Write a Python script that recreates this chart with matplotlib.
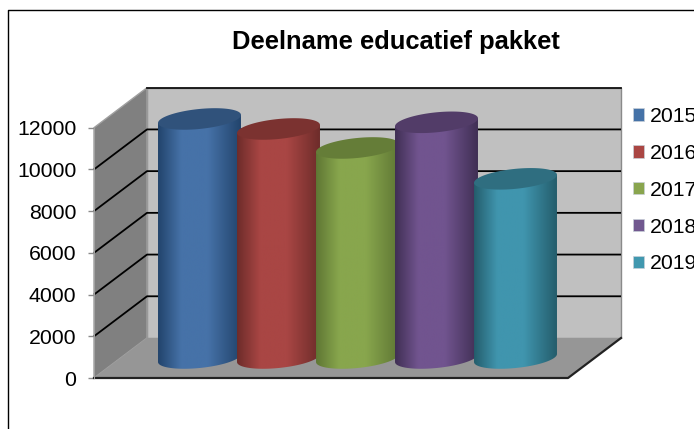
import numpy as np
import matplotlib
matplotlib.use('Agg')
import matplotlib.pyplot as plt
from matplotlib.colors import LinearSegmentedColormap
from matplotlib.lines import Line2D
from matplotlib.patches import Patch, Polygon

plt.rcParams['font.family'] = ['Liberation Sans', 'DejaVu Sans']

years = ['2015', '2016', '2017', '2018', '2019']
values = [11460, 10980, 10070, 11300, 8590]
y_ticks = [0, 2000, 4000, 6000, 8000, 10000, 12000]

body_colors = ['#4672a8', '#a94644', '#88a64d', '#71548f', '#4095ae']
edge_colors = ['#22446c', '#6d2c2a', '#5f7734', '#402f54', '#245d6c']
top_colors = ['#30527b', '#7b3230', '#657d38', '#523c68', '#2f6e80']
legend_colors = ['#4572a7', '#aa4643', '#89a54e', '#71588f', '#4198af']

W, H = 694, 429
fig = plt.figure(figsize=(W / 100, H / 100), dpi=100)
ax = fig.add_axes([94 / W, (H - 378) / H, 474 / W, 250.3 / H])
ax.set_xlim(-1, 5)
ax.set_ylim(0, 12000)

# depth of the fake 3d box, in data units
dx = 53 / 79.0
dy = 40 / (250.3 / 12000)
x0, x1 = -1, 5
top = 12000

ax.add_patch(Polygon([(x0 + dx, dy), (x1 + dx, dy), (x1 + dx, top + dy), (x0 + dx, top + dy)],
                     fc='#c0c0c0', ec='#8a8a8a', lw=1, clip_on=False, zorder=1))
ax.add_patch(Polygon([(x0, 0), (x0 + dx, dy), (x0 + dx, top + dy), (x0, top)],
                     fc='#808080', ec='#a0a0a0', lw=1, clip_on=False, zorder=1))
ax.add_patch(Polygon([(x0, 0), (x1, 0), (x1 + dx, dy), (x0 + dx, dy)],
                     fc='#969696', ec='none', clip_on=False, zorder=1))

for v in y_ticks[1:-1]:
    ax.plot([x0, x0 + dx, x1 + dx], [v, v + dy, v + dy], color='black', lw=1.3,
            clip_on=False, zorder=2, solid_capstyle='butt')
ax.plot([x0 + dx, x1 + dx], [top + dy, top + dy], color='#111111', lw=1.3, clip_on=False, zorder=2)
ax.plot([x0, x1, x1 + dx], [0, 0, dy], color='#222222', lw=1.6, clip_on=False, zorder=2)

# cylinders, later ones overlap the earlier ones
half_w = 0.525
half_h = 10 / (250.3 / 12000)
shear = 4 / (250.3 / 12000)
t = np.linspace(0, 2 * np.pi, 181)
for i, v in enumerate(values):
    cx = i + dx / 2
    base = dy / 2
    top_y = v + dy / 2
    ex = cx + half_w * np.cos(t)
    ey = half_h * np.sin(t) + shear * np.cos(t)
    xs_low = cx + half_w * np.cos(t[:91])
    ys_low = -half_h * np.sin(t[:91]) + shear * np.cos(t[:91])
    outline = list(zip(xs_low, base + ys_low)) + [(cx - half_w, top_y - shear), (cx + half_w, top_y + shear)]
    body = Polygon(outline, fc='none', ec='none', clip_on=False, zorder=3 + i)
    ax.add_patch(body)
    cmap = LinearSegmentedColormap.from_list('c', [(0, edge_colors[i]), (0.28, body_colors[i]),
                                                   (0.6, body_colors[i]), (1, edge_colors[i])])
    im = ax.imshow(np.linspace(0, 1, 256).reshape(1, -1), cmap=cmap, aspect='auto',
                   extent=(cx - half_w, cx + half_w, 0, top_y + shear + half_h), zorder=3 + i)
    im.set_clip_box(fig.bbox)
    im.set_clip_path(body)
    ax.add_patch(Polygon(list(zip(ex, top_y + ey)), fc=top_colors[i], ec='none',
                         clip_on=False, zorder=3 + i))

ax.set_xlim(-1, 5)
ax.set_ylim(0, 12000)
ax.set_facecolor('none')
ax.set_xticks([])
ax.set_yticks(y_ticks)
ax.tick_params(axis='y', length=4.3, width=1, color='#8a8a8a', labelsize=15.3, pad=8.5)
for side in ['top', 'right', 'bottom']:
    ax.spines[side].set_visible(False)
ax.spines['left'].set_color('#a0a0a0')

fig.text(396 / W, 1 - 42 / H, 'Deelname educatief pakket', fontsize=18.35, fontweight='bold',
         ha='center', va='center')

handles = [Patch(fc=c, ec='#c8d0d8', lw=0.5) for c in legend_colors]
fig.legend(handles, years, loc='upper left', bbox_to_anchor=(632.5 / W, 1 - 107 / H), frameon=False,
           fontsize=15.3, labelspacing=0.84, handlelength=0.52, handleheight=0.52, handletextpad=0.3,
           borderpad=0, borderaxespad=0)

# outer chart frame, runs off the right and bottom of the picture
fig.add_artist(Line2D([7.5 / W, 7.5 / W, 1], [0, 1 - 9.5 / H, 1 - 9.5 / H], color='black', lw=1))

fig.savefig('out.png', dpi=100)
